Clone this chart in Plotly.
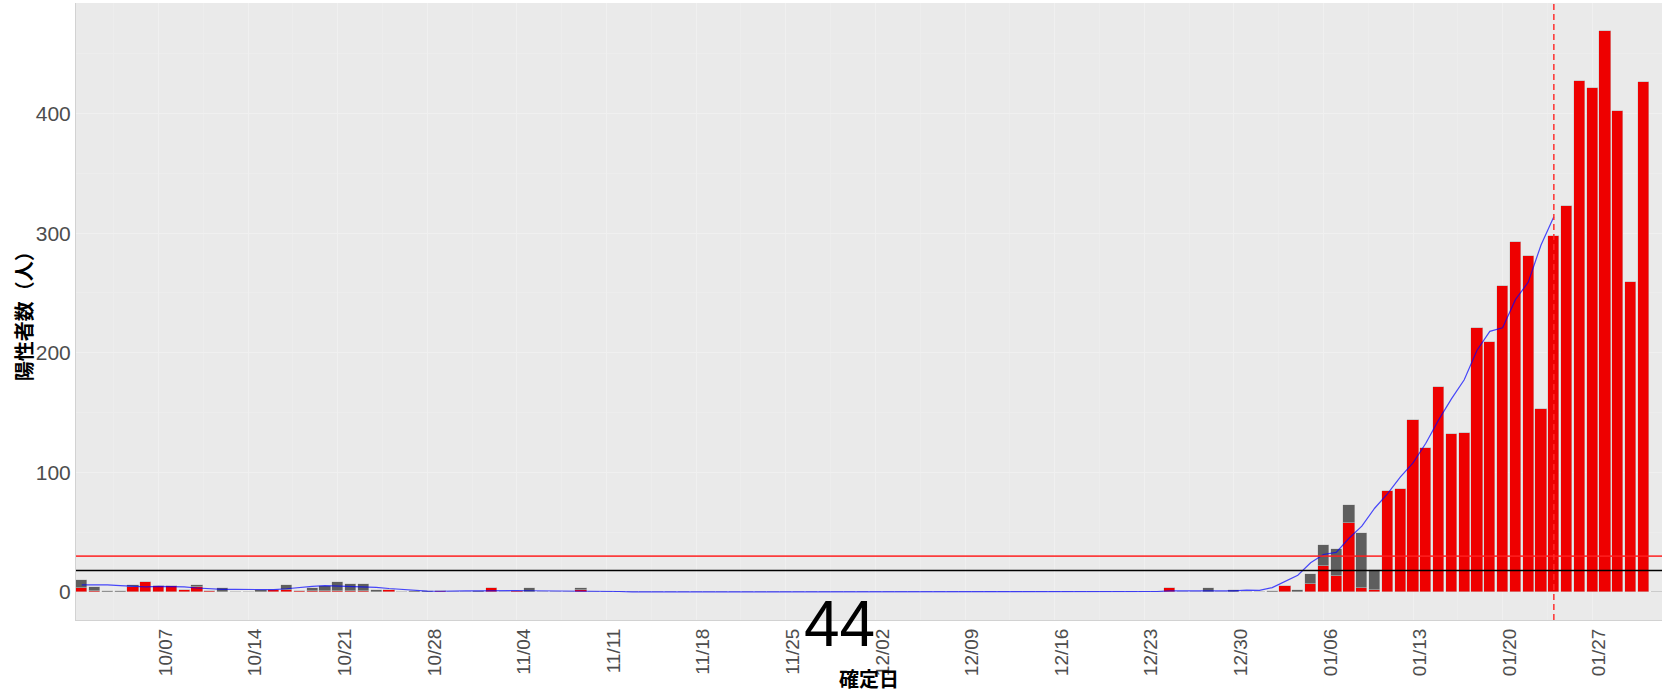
import pandas as pd
import plotly.graph_objects as go

# ---- data ----
dates = pd.date_range("2021-10-01", "2022-02-01", freq="D")

red_oct = [3, 1, 0, 0, 4, 8, 5, 5, 2, 4, 1, 0, 0, 0, 0, 2, 2, 1, 1, 1, 1, 1, 1, 0, 2, 0, 0, 0, 1, 0, 0]
gray_oct = [7, 3, 1, 1, 2, 0, 0, 0, 0, 2, 0, 3, 0, 0, 2, 0, 4, 0, 2, 4, 7, 6, 6, 2, 0, 0, 1, 1, 0, 0, 0]

red_nov = [0, 3, 0, 1, 0, 0, 0, 0, 2, 0, 0, 0, 0, 0, 0, 0, 0, 0, 0, 0, 0, 0, 0, 0, 0, 0, 0, 0, 0, 0]
gray_nov = [1, 0, 0, 0, 3, 0, 0, 0, 1, 0, 0, 0, 0, 0, 0, 0, 0, 0, 0, 0, 0, 0, 0, 0, 0, 0, 0, 0, 0, 0]

red_dec = [0, 0, 0, 0, 0, 0, 0, 0, 0, 0, 0, 0, 0, 0, 0, 0, 0, 0, 0, 0, 0, 0, 0, 0, 3, 0, 0, 0, 0, 0, 0]
gray_dec = [0, 0, 0, 0, 0, 0, 0, 0, 0, 0, 0, 0, 0, 0, 0, 0, 0, 0, 0, 0, 0, 0, 0, 0, 0, 0, 0, 3, 0, 2, 0]

red_jan = [0, 0, 5, 0, 7, 22, 13, 58, 3, 2, 84, 86, 144, 120, 171, 132, 133, 221, 209, 256,
           293, 281, 153, 298, 323, 427, 421, 469, 402, 259, 426]
gray_jan = [0, 1, 0, 2, 8, 17, 23, 15, 46, 16, 0, 0, 0, 0, 0, 0, 0, 0, 0, 0,
            0, 0, 0, 0, 0, 0, 0, 0, 0, 0, 0]

red_feb = [0]
gray_feb = [0]

# moving-average line (blue), 10/01 .. 01/24
avg_line = [6.0, 6.2, 6.0, 5.3, 4.5, 4.3, 4.7, 4.7, 4.3, 3.3,
            2.6, 2.2, 2.1, 2.0, 2.0, 2.0, 2.7, 3.9, 4.6, 5.3,
            5.0, 5.0, 4.5, 3.9, 2.9, 2.0, 1.0, 0.7, 0.6, 1.0,
            0.9, 0.9, 1.1, 1.1, 1.1, 1.0, 1.0, 1.0, 0.9, 0.4,
            0.4, 0.4, 0.4,
            0, 0, 0, 0, 0, 0, 0, 0, 0, 0, 0, 0, 0, 0, 0, 0, 0, 0, 0, 0,
            0, 0, 0, 0, 0, 0, 0, 0, 0, 0, 0, 0, 0, 0, 0, 0, 0, 0, 0,
            0.4, 0.4, 0.4, 0.9, 0.9, 1.1, 1.1, 0.7,
            0.9, 1.6, 1.4, 3.6, 8.9, 14.0, 24.4, 31.3, 33.1, 44.9,
            55.0, 70.0, 82.0, 96.0, 107.9, 124.3, 143.9, 161.4, 177.4, 202.1,
            217.9, 220.9, 244.4, 259.0, 290.1, 313.7]

red_level = 30
black_level = 18
marker_date = "2022-01-24"
big_number = "44"
x_ticks = ["10/07", "10/14", "10/21", "10/28", "11/04", "11/11", "11/18", "11/25",
           "12/02", "12/09", "12/16", "12/23", "12/30", "01/06", "01/13", "01/20", "01/27"]
y_ticks = [0, 100, 200, 300, 400]

red_vals = red_oct + red_nov + red_dec + red_jan + red_feb
gray_vals = gray_oct + gray_nov + gray_dec + gray_jan + gray_feb
line_dates = dates[:len(avg_line)]

DAY = 86400000
font_latin = "Liberation Sans, Arial, sans-serif"
font_jp = "Noto Sans CJK JP, sans-serif"

fig = go.Figure()
fig.add_trace(go.Bar(x=dates, y=red_vals, width=0.88 * DAY,
                     marker=dict(color="#EE0000", line=dict(color="rgba(200,200,200,0.8)", width=0.6)),
                     showlegend=False))
fig.add_trace(go.Bar(x=dates, y=gray_vals, width=0.88 * DAY,
                     marker=dict(color="#5E5E5E", line=dict(color="rgba(200,200,200,0.8)", width=0.6)),
                     showlegend=False))
fig.add_trace(go.Scatter(x=line_dates, y=avg_line, mode="lines",
                         line=dict(color="rgba(0,0,255,0.7)", width=1.2), showlegend=False))

fig.add_hline(y=red_level, line=dict(color="rgba(255,30,30,0.85)", width=1.6), layer="above")
fig.add_hline(y=black_level, line=dict(color="black", width=1.6), layer="above")
fig.add_vline(x=pd.Timestamp(marker_date).timestamp() * 1000,
              line=dict(color="rgba(255,40,40,0.9)", width=1.6, dash="6px,4px"), layer="above")

tickvals_x = pd.date_range("2021-10-07", periods=len(x_ticks), freq="7D")

fig.update_layout(
    width=1667, height=694,
    margin=dict(l=76, r=5, t=3, b=74),
    paper_bgcolor="white",
    plot_bgcolor="#EAEAEA",
    barmode="stack",
    bargap=0,
    font=dict(family=font_latin, color="#4D4D4D"),
    xaxis=dict(
        type="date",
        range=["2021-09-30 13:12", "2022-02-01 10:48"],
        tickvals=tickvals_x, ticktext=x_ticks,
        tickangle=-90, tickfont=dict(size=19, color="#4D4D4D", family=font_latin),
        ticks="", ticklabelshift=7, automargin=False,
        showgrid=True, gridcolor="#F0F0F0", gridwidth=1,
        minor=dict(tickvals=tickvals_x - pd.Timedelta(hours=84), showgrid=True,
                   gridcolor="#EDEDED", gridwidth=0.6),
        showline=True, linecolor="#D2D2D2", linewidth=1,
        zeroline=False,
    ),
    yaxis=dict(
        range=[-23.45, 492.45],
        tickvals=y_ticks, automargin=False,
        tickfont=dict(size=21, color="#4D4D4D", family=font_latin),
        ticks="",
        showgrid=True, gridcolor="#F0F0F0", gridwidth=1,
        minor=dict(dtick=50, showgrid=True, gridcolor="#EDEDED", gridwidth=0.6),
        showline=True, linecolor="#D2D2D2", linewidth=1,
        zeroline=False,
    ),
    annotations=[
        dict(text="確定日", xref="paper", yref="paper", x=0.5, y=-0.095,
             xanchor="center", yanchor="middle", showarrow=False,
             font=dict(family=font_jp, size=20, color="black", weight="bold")),
        dict(text="陽性者数（人）", xref="paper", yref="paper", x=-0.033, y=0.5,
             xanchor="center", yanchor="middle", showarrow=False, textangle=-90,
             font=dict(family=font_jp, size=20, color="black", weight="bold")),
        dict(text=big_number, xref="paper", yref="paper", x=0.4815, y=-0.0065,
             xanchor="center", yanchor="middle", showarrow=False,
             font=dict(family=font_latin, size=64, color="black")),
    ],
)

fig.write_html("out.html", config={"displayModeBar": False},
               post_script="document.body.style.margin='0';")
